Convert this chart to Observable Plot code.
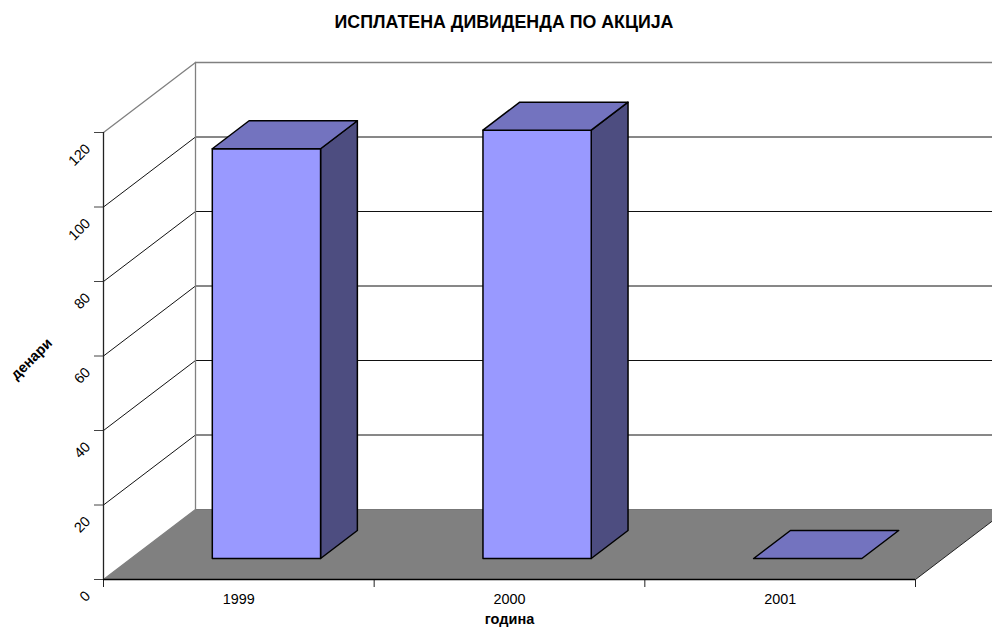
<!DOCTYPE html>
<html>
<head>
<meta charset="utf-8">
<script src="https://cdn.jsdelivr.net/npm/d3@7"></script>
<script src="https://cdn.jsdelivr.net/npm/@observablehq/plot@0.6"></script>
<style>
html,body{margin:0;padding:0;background:#fff;overflow:hidden;}
#title{box-sizing:border-box;width:992px;height:44px;padding:13px 0 0 16px;text-align:center;font:bold 17.8px/18px "Liberation Sans",Arial,sans-serif;color:#000;}
</style>
</head>
<body>
<div id="title">ИСПЛАТЕНА ДИВИДЕНДА ПО АКЦИЈА</div>
<div id="chart"></div>
<script>
const years = ["1999", "2000", "2001"];
const dividends = [110, 115, 0];
const yTicks = [0, 20, 40, 60, 80, 100, 120];
const xBoundaries = [0, 1, 2, 3];
const xCenters = [0.5, 1.5, 2.5];
const xTitle = "година";
const yTitle = "денари";

const W = 992, H = 583;
const left = 103, right = 915, top0 = 88, bottom = 535;
const unitX = (right - left) / 3, unitY = (bottom - top0) / 120;
// oblique depth: one whole depth unit shifts the picture 92px right, 70px up
const depthX = 92 / unitX, depthY = 70 / unitY;
const P = (c, v, d) => ({x: c + d * depthX, y: v + d * depthY});
const poly = (pts, fill, stroke, strokeWidth = 1) =>
  Plot.line(pts.map(p => P(...p)), {x: "x", y: "y", fill, stroke, strokeWidth, curve: "linear-closed"});
const seg = (a, b, stroke, strokeWidth = 1) =>
  Plot.line([P(...a), P(...b)], {x: "x", y: "y", stroke, strokeWidth});

const gray = "#808080";
const marks = [];
// floor
marks.push(poly([[0,0,0],[3,0,0],[3,0,1],[0,0,1]], gray, "none"));
marks.push(seg([0,0,1],[3,0,1], "#777"));
marks.push(seg([3,0,0],[3,0,1], "#222"));
// walls
for (const t of yTicks.slice(1, -1)) {
  marks.push(seg([0,t,0],[0,t,1], "#111"));
  marks.push(seg([0,t,1],[3,t,1], "#111"));
}
marks.push(seg([0,120,0],[0,120,1], gray, 1.3));
marks.push(seg([0,120,1],[3,120,1], gray, 1.3));
marks.push(seg([0,0,0],[0,0,1], gray, 1.3));
marks.push(seg([0,0,1],[0,120,1], gray, 1.3));
// bars
const b0 = 0.3, b1 = 0.7, d0 = 0.3, d1 = 0.7;
dividends.forEach((v, i) => {
  const a = i + b0, b = i + b1;
  if (v > 0) {
    marks.push(poly([[b,0,d0],[b,0,d1],[b,v,d1],[b,v,d0]], "#4D4D80", "#000", 1.5));
    marks.push(poly([[a,0,d0],[b,0,d0],[b,v,d0],[a,v,d0]], "#9999FF", "#000", 1.5));
  }
  marks.push(poly([[a,v,d0],[b,v,d0],[b,v,d1],[a,v,d1]], "#7373BF", "#000", 1.5));
});
// axes
marks.push(Plot.axisY(yTicks, {anchor: "left", label: null, tickSize: 9, tickFormat: () => "", stroke: "#444"}));
marks.push(Plot.axisY(yTicks, {anchor: "left", label: null, tickSize: 0, tickPadding: 15.5,
  textAnchor: "end", rotate: -45, dy: 14, fontSize: 14.4, fontFamily: "Liberation Sans", fill: "#000"}));
marks.push(Plot.axisX(xBoundaries, {anchor: "bottom", label: null, tickSize: 8, tickFormat: () => "", stroke: "#222"}));
marks.push(Plot.axisX(xCenters, {anchor: "bottom", label: null, tickSize: 0, tickPadding: 14.5,
  tickFormat: c => years[Math.floor(c)], fontSize: 14.4, fontFamily: "Liberation Sans", fill: "#000"}));
marks.push(Plot.ruleY([0], {stroke: "#000", strokeWidth: 1.5}));
marks.push(Plot.ruleX([0], {y1: 0, y2: 120, stroke: "#222", strokeWidth: 1.3}));
marks.push(Plot.text([xTitle], {x: xCenters[1], y: 0, dy: 40, text: d => d, fontWeight: "bold", fontSize: 14.5, fontFamily: "Liberation Sans", fill: "#000"}));
marks.push(Plot.text([yTitle], {x: 0, y: 60, dx: -72, dy: 3, text: d => d, rotate: -45, fontWeight: "bold", fontSize: 14.5, fontFamily: "Liberation Sans", fill: "#000"}));

const chart = Plot.plot({
  width: W, height: H,
  marginLeft: left, marginRight: W - right, marginTop: top0, marginBottom: H - bottom,
  x: {domain: [0, 3], label: null, axis: null},
  y: {domain: [0, 120], label: null, axis: null},
  style: {background: "white", overflow: "hidden"},
  marks
});
document.getElementById("chart").appendChild(chart);
</script>
</body>
</html>
